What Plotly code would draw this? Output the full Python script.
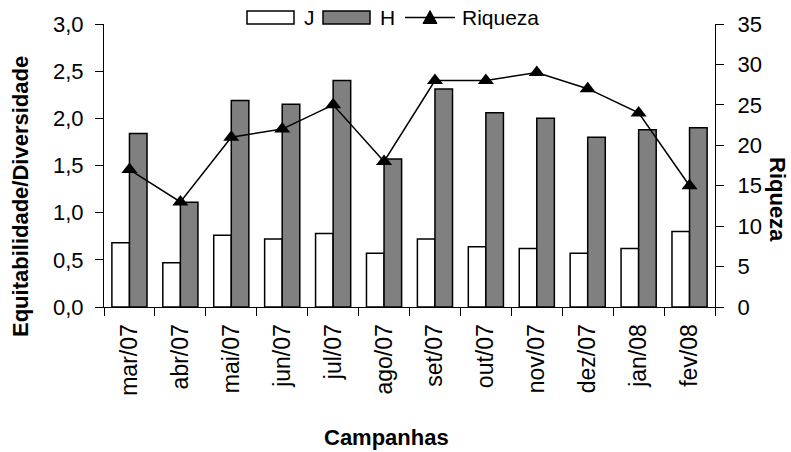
import plotly.graph_objects as go

# Sampling campaigns (month/year)
campanhas = ["mar/07", "abr/07", "mai/07", "jun/07", "jul/07", "ago/07",
             "set/07", "out/07", "nov/07", "dez/07", "jan/08", "fev/08"]

# Pielou evenness (J) and Shannon diversity (H)
equitabilidade_j = [0.68, 0.47, 0.76, 0.72, 0.78, 0.57, 0.72, 0.64, 0.62, 0.57, 0.62, 0.80]
diversidade_h = [1.84, 1.11, 2.19, 2.15, 2.40, 1.57, 2.31, 2.06, 2.00, 1.80, 1.88, 1.90]

# Species richness (number of taxa)
riqueza = [17, 13, 21, 22, 25, 18, 28, 28, 29, 27, 24, 15]

left_ticks = [0, 0.5, 1.0, 1.5, 2.0, 2.5, 3.0]
right_ticks = [0, 5, 10, 15, 20, 25, 30, 35]

FONT = "Liberation Sans, Arial, sans-serif"
W, H = 791, 452
M_L, M_R, M_T, M_B = 104, 76, 24, 145
PLOT_W = W - M_L - M_R
PLOT_H = H - M_T - M_B


def px_x(px):
    """Horizontal pixel position -> paper fraction."""
    return (px - M_L) / PLOT_W


def px_y(py):
    """Vertical pixel position (from top) -> paper fraction."""
    return (H - M_B - py) / PLOT_H


fig = go.Figure()
fig.add_trace(go.Bar(
    x=campanhas, y=equitabilidade_j, name="J",
    marker=dict(color="white", line=dict(color="black", width=1.5)),
))
fig.add_trace(go.Bar(
    x=campanhas, y=diversidade_h, name="H",
    marker=dict(color="#808080", line=dict(color="black", width=1.5)),
))
fig.add_trace(go.Scatter(
    x=campanhas, y=riqueza, name="Riqueza", yaxis="y2",
    mode="lines+markers",
    line=dict(color="black", width=1.5),
    marker=dict(symbol="triangle-up", size=14, color="black"),
))

axis_common = dict(showgrid=False, zeroline=False, linecolor="black",
                   linewidth=1, tickcolor="black", tickwidth=1)

# Legend drawn as shapes + labels (wide Excel-style swatches)
leg_top, leg_bot = 11, 24
leg_mid = (leg_top + leg_bot) / 2
legend_shapes = [
    dict(type="rect", xref="paper", yref="paper",
         x0=px_x(247), x1=px_x(294), y0=px_y(leg_bot), y1=px_y(leg_top),
         fillcolor="white", line=dict(color="black", width=1.5)),
    dict(type="rect", xref="paper", yref="paper",
         x0=px_x(323), x1=px_x(370), y0=px_y(leg_bot), y1=px_y(leg_top),
         fillcolor="#808080", line=dict(color="black", width=1.5)),
    dict(type="line", xref="paper", yref="paper",
         x0=px_x(405), x1=px_x(455), y0=px_y(leg_mid), y1=px_y(leg_mid),
         line=dict(color="black", width=1.5)),
    dict(type="path", xref="paper", yref="paper",
         xsizemode="pixel", ysizemode="pixel",
         xanchor=px_x(430), yanchor=px_y(leg_mid),
         path="M -7,-6 L 7,-6 L 0,7 Z",
         fillcolor="black", line=dict(color="black", width=1)),
]
legend_labels = [
    dict(text="J", x=px_x(302), y=px_y(leg_mid)),
    dict(text="H", x=px_x(378), y=px_y(leg_mid)),
    dict(text="Riqueza", x=px_x(460), y=px_y(leg_mid)),
]
legend_annotations = [
    dict(text=l["text"], xref="paper", yref="paper", x=l["x"], y=l["y"],
         xanchor="left", yanchor="middle", showarrow=False,
         font=dict(size=21)) for l in legend_labels
]

title_common = dict(xref="paper", yref="paper", xanchor="center",
                    yanchor="middle", showarrow=False, font=dict(size=22))

fig.update_layout(
    width=W, height=H,
    margin=dict(l=M_L, r=M_R, t=M_T, b=M_B),
    paper_bgcolor="white", plot_bgcolor="white",
    separators=",.",
    font=dict(family=FONT, size=22, color="black"),
    barmode="group", bargap=0.31, bargroupgap=0,
    showlegend=False,
    xaxis=dict(**axis_common, showline=True, type="category",
               categoryorder="array", categoryarray=campanhas,
               range=[-0.5, 11.5], tickson="boundaries", ticks="outside",
               ticklen=8, tickangle=-90, tickfont=dict(size=23),
               ticklabelstandoff=7, automargin=False),
    xaxis2=dict(**axis_common, showline=False, overlaying="x", anchor="y",
                type="category", categoryorder="array",
                categoryarray=campanhas, range=[-0.5, 11.5],
                tickson="boundaries", ticks="inside", ticklen=7,
                showticklabels=False),
    yaxis=dict(**axis_common, showline=True, range=[0, 3.0],
               tickvals=left_ticks, tickformat=".1f", ticks="outside",
               ticklen=8, tickfont=dict(size=22), ticklabelstandoff=7,
               automargin=False),
    yaxis2=dict(**axis_common, showline=True, overlaying="y", side="right",
                anchor="x", range=[0, 35], tickvals=right_ticks,
                ticks="outside", ticklen=8, tickfont=dict(size=22),
                ticklabelstandoff=9, automargin=False),
    yaxis3=dict(**axis_common, showline=False, overlaying="y", side="left",
                anchor="x", range=[0, 3.0], tickvals=left_ticks,
                ticks="inside", ticklen=7, showticklabels=False),
    yaxis4=dict(**axis_common, showline=False, overlaying="y", side="right",
                anchor="x", range=[0, 35], tickvals=right_ticks,
                ticks="inside", ticklen=7, showticklabels=False),
    shapes=legend_shapes,
    annotations=legend_annotations + [
        dict(text="<b>Equitabilidade/Diversidade</b>", textangle=-90,
             x=px_x(20), y=px_y(197), **title_common),
        dict(text="<b>Riqueza</b>", textangle=90,
             x=px_x(778), y=px_y(199), **title_common),
        dict(text="<b>Campanhas</b>",
             x=px_x(386), y=px_y(437), **title_common),
    ],
)

fig.write_html("out.html")
